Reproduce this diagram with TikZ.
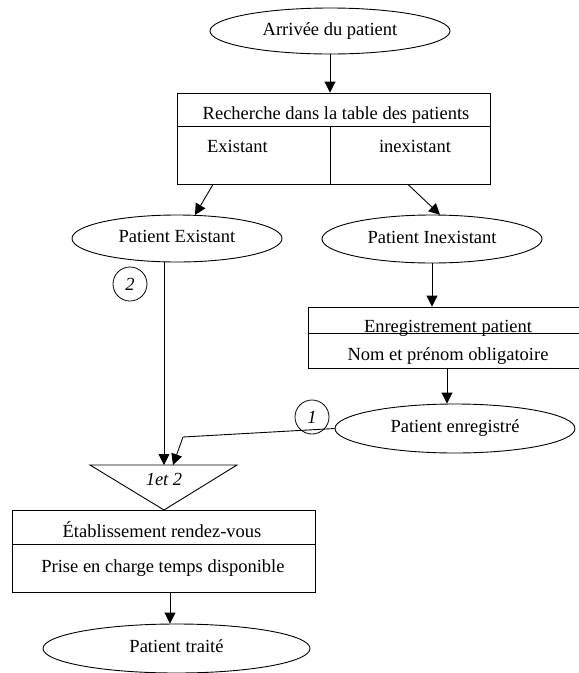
\documentclass[tikz,border=0pt]{standalone}
\usepackage{fontspec}
\setmainfont{Liberation Serif}
\usetikzlibrary{shapes.geometric,arrows.meta,calc}
\begin{document}
\begin{tikzpicture}[x=1pt,y=-1pt,
  every node/.style={font=\fontsize{18.5}{22}\selectfont, inner sep=0pt},
  oval/.style={draw, ellipse, line width=0.9pt, text height=12.6pt, text depth=4pt},
  boxshape/.style={draw, rectangle, line width=0.9pt},
  lbl/.style={anchor=base},
  num/.style={draw, circle, minimum size=34pt, line width=0.8pt, font=\fontsize{18.5}{22}\selectfont\itshape},
  conn/.style={line width=0.9pt, -{Triangle[length=11pt,width=11pt]}},
  plain/.style={line width=0.9pt}]
\useasboundingbox (0,0) rectangle (579,673);
\clip (0,0) rectangle (579,673);

% top ellipse
\node[oval, minimum width=240pt, minimum height=46pt] (arr) at (330,31) {Arrivée du patient};

% search box
\node[boxshape, minimum width=313pt, minimum height=91pt] (search) at (333.5,138.5) {};
\draw[plain] ($(search.north west)+(0,34)$) -- ($(search.north east)+(0,34)$);
\draw[plain] ($(search.north)+(-3.5,34)$) -- ($(search.south)+(-3.5,0)$);
\node[lbl] (searcht) at (336,119) {Recherche dans la table des patients};
\node[lbl] (exist) at (237.5,152) {Existant};
\node[lbl] (inexist) at (415,152) {inexistant};

% result ellipses
\node[oval, minimum width=210pt, minimum height=47pt] (pexist) at (177,238.5) {Patient Existant};
\node[oval, minimum width=220pt, minimum height=48pt] (pinex) at (432,239) {Patient Inexistant};

% registration box
\node[boxshape, minimum width=274pt, minimum height=61pt] (reg) at (445,337.5) {};
\draw[plain] ($(reg.north west)+(0,27)$) -- ($(reg.north east)+(0,27)$);
\node[lbl] (regt) at (448,332) {Enregistrement patient};
\node[lbl] (regs) at (448,360) {Nom et prénom obligatoire};

\node[oval, minimum width=240pt, minimum height=49pt] (penr) at (455,428.5) {Patient enregistré};

% numbered circles
\node[num] (c2) at (130,284) {2};
\node[num] (c1) at (312,417) {1};

% merge triangle
\coordinate (tl) at (90,465);
\coordinate (tr) at (237,465);
\coordinate (ta) at (164,510);
\draw[plain, line join=miter] (tl) -- (tr) -- (ta) -- cycle;
\node[lbl, font=\fontsize{18.5}{22}\selectfont\itshape] (tri) at (164,485) {1et 2};

% appointment box
\node[boxshape, minimum width=303pt, minimum height=82pt] (rdv) at (163.5,551) {};
\draw[plain] ($(rdv.north west)+(0,35)$) -- ($(rdv.north east)+(0,35)$);
\node[lbl] (rdvt) at (162,537) {Établissement rendez-vous};
\node[lbl] (rdvs) at (163,572) {Prise en charge temps disponible};

\node[oval, minimum width=267pt, minimum height=49pt] (ptr) at (176.5,648.5) {Patient traité};

% connector end points
\coordinate (s1) at ($(search.south)+(-120.5,0)$);
\coordinate (e1) at ($(pexist.north)+(18,0.4)$);
\coordinate (s2) at ($(search.south)+(74.5,0)$);
\coordinate (e2) at ($(pinex.north)+(8,0.2)$);
\coordinate (regout) at ($(reg.south)+(2,0)$);
\coordinate (pexout) at ($(pexist.south)+(-13,0)$);
\coordinate (mid) at ($(tl)!0.5!(tr)$);
\coordinate (mid2) at ($(mid)+(9.5,0)$);
\coordinate (bend) at (183,437);
\coordinate (rdvout) at ($(rdv.south)+(6.5,0)$);

% connectors
\draw[conn] (arr.south) -- (arr.south |- search.north);
\draw[conn] (s1) -- (e1);
\draw[conn] (s2) -- (e2);
\draw[conn] (pinex.south) -- (pinex.south |- reg.north);
\draw[conn] (regout) -- (regout |- penr.north);
\draw[conn] (pexout) -- (pexout |- tl);
\draw[conn] (penr.west) -- (bend) -- (mid2);
\draw[conn] (rdvout) -- (rdvout |- ptr.north);
\end{tikzpicture}
\end{document}
